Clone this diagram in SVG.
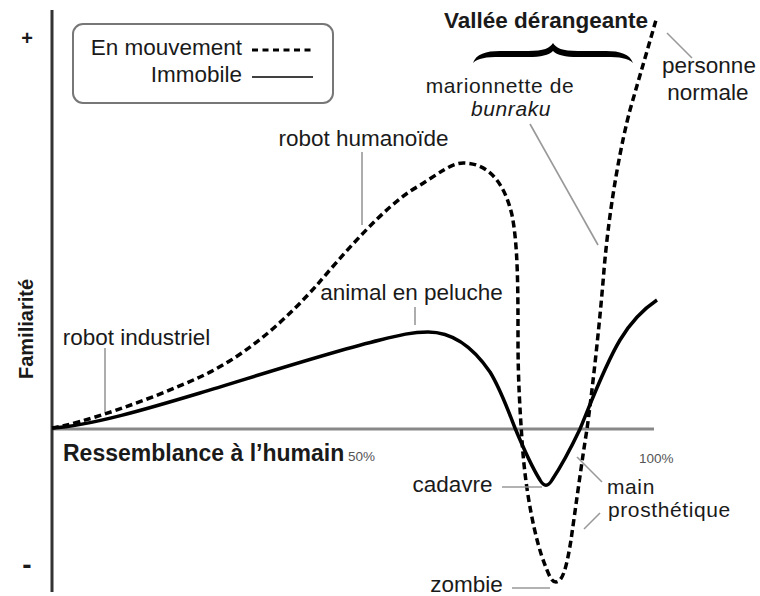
<svg xmlns="http://www.w3.org/2000/svg" width="760" height="596" viewBox="0 0 760 596">
<style>
text{font-family:"Liberation Sans",Arial,sans-serif;fill:#1a1a1a;font-size:22.5px}
.b{font-weight:bold}
.sm{font-size:13.5px;fill:#555}
.st{font-size:21px;letter-spacing:0.6px}
.lead{stroke:#999;stroke-width:1.6;fill:none}
.dash{stroke:#000;stroke-width:3.5;fill:none;stroke-dasharray:7 4}
.solid{stroke:#000;stroke-width:3.5;fill:none;stroke-linejoin:round}
</style>
<rect width="760" height="596" fill="#fff"/>
<g id="axes">
<line x1="52" y1="429" x2="654" y2="429" stroke="#888" stroke-width="3"/>
<line x1="52" y1="10" x2="52" y2="592" stroke="#333" stroke-width="3"/>
<text x="27" y="45" text-anchor="middle" class="b" style="font-size:20px">+</text>
<text x="27" y="574" text-anchor="middle" class="b" style="font-size:28px">-</text>
<text transform="translate(33,329) rotate(-90)" text-anchor="middle" class="b" style="font-size:20px">Familiarité</text>
<text x="63" y="461" class="b" style="font-size:23px">Ressemblance à l’humain</text>
<text x="348" y="461" class="sm">50%</text>
<text x="639" y="463" class="sm">100%</text>
</g>
<g id="legend">
<rect x="73" y="24" width="260" height="79" rx="10" fill="#fff" stroke="#777" stroke-width="2"/>
<text x="242" y="55" text-anchor="end">En mouvement</text>
<line x1="252" y1="50" x2="313" y2="50" stroke="#000" stroke-width="3" stroke-dasharray="6 4.5"/>
<text x="242" y="82" text-anchor="end">Immobile</text>
<line x1="252" y1="77" x2="313" y2="77" stroke="#000" stroke-width="1.6"/>
</g>
<g id="curves">
<path class="dash" d="M52,428 C80,424 150,400 200,377 C250,354 290,315 317,285 C340,258 385,205 417,187 C440,173 452,162 465,163 C490,164 505,185 512,215 C518,245 518,290 518,340 C518,380 520,410 522,440 C525,490 535,540 545,565 C550,578 552,582 556,582 C563,582 567,565 571,540 C576,505 582,460 587,429 C593,385 600,320 604,270 C610,200 622,140 630,110 C640,75 648,48 656,20"/>
<path class="solid" d="M52,428 C90,426 150,408 200,393 C250,378 330,352 380,340 C400,335 412,332 428,332 C455,332 475,350 490,372 C500,388 508,410 515,428 C525,452 535,472 540,480 C544,487 548,487 552,480 C560,468 570,450 580,429 C592,400 605,365 620,340 C632,320 645,308 657,300"/>
</g>
<g id="valley">
<text x="546" y="28" text-anchor="middle" class="b">Vallée dérangeante</text>
<path d="M473,63 C476,54 486,51 500,51 L528,51 C544,51 550,48 553,43 C556,48 562,51 578,51 L606,51 C620,51 630,54 633,63 C628,58 620,57 606,57 L578,57 C565,57 557,55 553,51 C549,55 541,57 528,57 L500,57 C486,57 478,58 473,63 Z" fill="#000"/>
</g>
<g id="connectors">
<line class="lead" x1="667" y1="33" x2="692" y2="58"/>
<line class="lead" x1="530" y1="124" x2="598" y2="245"/>
<line class="lead" x1="362" y1="152" x2="362" y2="225"/>
<line class="lead" x1="415" y1="307" x2="415" y2="325"/>
<line class="lead" x1="105" y1="348" x2="105" y2="412"/>
<line class="lead" x1="502" y1="487" x2="542" y2="487"/>
<line class="lead" x1="577" y1="457" x2="602" y2="482"/>
<line class="lead" x1="584" y1="529" x2="600" y2="513"/>
<line class="lead" x1="512" y1="588" x2="550" y2="588"/>
</g>
<g id="n-personne"><text x="709" y="73" text-anchor="middle">personne</text><text x="708" y="100" text-anchor="middle">normale</text></g>
<g id="n-bunraku"><text x="500" y="92.5" text-anchor="middle" class="st">marionnette de</text><text x="511" y="116" text-anchor="middle" font-style="italic" class="st">bunraku</text></g>
<g id="n-humanoide"><text x="363.5" y="146" text-anchor="middle">robot humanoïde</text></g>
<g id="n-peluche"><text x="411.5" y="300" text-anchor="middle">animal en peluche</text></g>
<g id="n-industriel"><text x="136.5" y="345" text-anchor="middle">robot industriel</text></g>
<g id="n-cadavre"><text x="452.5" y="492" text-anchor="middle">cadavre</text></g>
<g id="n-main"><text x="607" y="493.5" class="st">main</text><text x="608" y="517" class="st">prosthétique</text></g>
<g id="n-zombie"><text x="466.5" y="592" text-anchor="middle">zombie</text></g>
</svg>
